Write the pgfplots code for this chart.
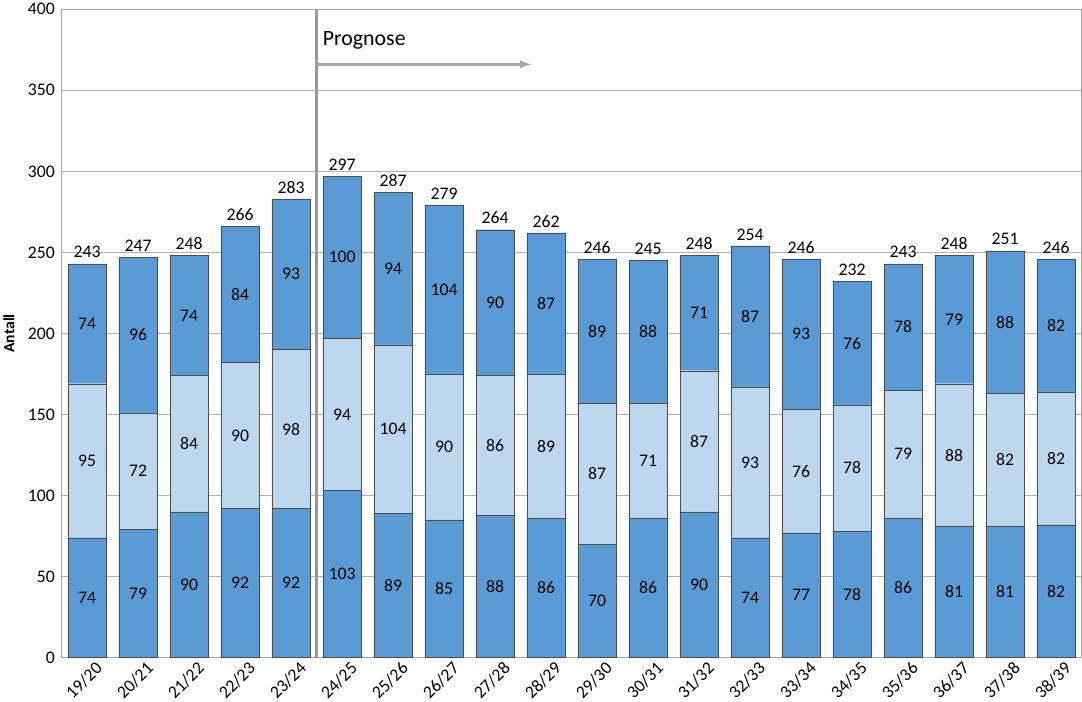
\documentclass[border=0pt]{standalone}
\usepackage{pgfplots}
\pgfplotsset{compat=1.18}
\usepackage{pgfplotstable}
\usepackage{fontspec}
\setmainfont{Carlito}
\definecolor{dk}{RGB}{91,155,213}
\definecolor{lt}{RGB}{189,215,238}
\pgfplotstableread{
x b m t tot
0 74 95 74 243
1 79 72 96 247
2 90 84 74 248
3 92 90 84 266
4 92 98 93 283
5 103 94 100 297
6 89 104 94 287
7 85 90 104 279
8 88 86 90 264
9 86 89 87 262
10 70 87 89 246
11 86 71 88 245
12 90 87 71 248
13 74 93 87 254
14 77 76 93 246
15 78 78 76 232
16 86 79 78 243
17 81 88 79 248
18 81 82 88 251
19 82 82 82 246
}\data
\begin{document}
\begin{tikzpicture}
\pgfplotsset{every axis/.style={width=980pt,height=623pt,scale only axis,
 xmin=-0.5,xmax=19.5,ymin=0,ymax=400,/pgf/number format/assume math mode=true}}
\begin{axis}[ybar stacked, bar width=37pt,
 xtick={0,...,19},
 xticklabels={19/20,20/21,21/22,22/23,23/24,24/25,25/26,26/27,27/28,28/29,29/30,30/31,31/32,32/33,33/34,34/35,35/36,36/37,37/38,38/39},
 x tick label style={rotate=45,anchor=north east,inner sep=1pt,xshift=4pt,yshift=-6pt,font=\fontsize{17}{19}\selectfont},
 ytick={0,50,...,400},
 y tick label style={font=\fontsize{17}{19}\selectfont,xshift=-3pt},
 ymajorgrids, grid style={gray!60,line width=0.8pt},
 axis line style={gray!70}, major tick length=0pt,
 ylabel={\bfseries Antall}, ylabel style={font=\fontsize{15}{17}\selectfont},
 ylabel shift=6pt,
 tick align=outside]
\addplot[fill=dk,draw=black!70] table[x=x,y=b]{\data};
\addplot[fill=lt,draw=black!70] table[x=x,y=m]{\data};
\addplot[fill=dk,draw=black!70] table[x=x,y=t]{\data};
\end{axis}
\begin{axis}[hide axis, nodes near coords, point meta=explicit,
 every node near coord/.append style={font=\fontsize{17}{19}\selectfont,black}]
\addplot[only marks,mark=none,nodes near coords align=center] table[x=x,y expr=\thisrow{b}/2,meta=b]{\data};
\addplot[only marks,mark=none,nodes near coords align=center] table[x=x,y expr=\thisrow{b}+\thisrow{m}/2,meta=m]{\data};
\addplot[only marks,mark=none,nodes near coords align=center] table[x=x,y expr=\thisrow{b}+\thisrow{m}+\thisrow{t}/2,meta=t]{\data};
\addplot[only marks,mark=none,nodes near coords align=above,every node near coord/.append style={yshift=2pt}] table[x=x,y=tot,meta=tot]{\data};
\draw[gray!80,line width=2.5pt] (axis cs:4.5,0) -- (axis cs:4.5,400);
\draw[gray!70,line width=2.5pt,-latex] (axis cs:4.5,366) -- (axis cs:8.7,366);
\node[anchor=west,font=\fontsize{21}{24}\selectfont] at (axis cs:4.55,381) {Prognose};
\end{axis}
\end{tikzpicture}
\end{document}
